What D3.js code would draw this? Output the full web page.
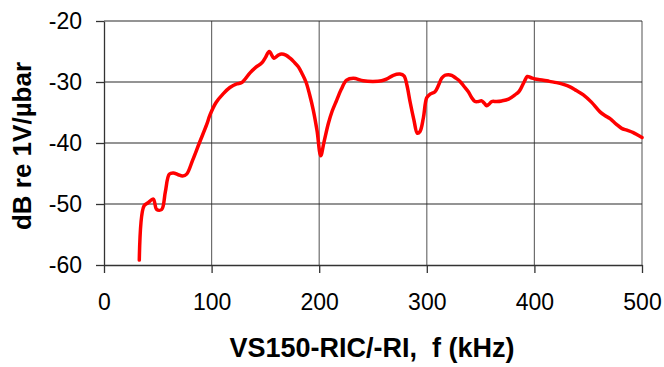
<!DOCTYPE html>
<html>
<head>
<meta charset="utf-8">
<script src="https://cdn.jsdelivr.net/npm/d3@7"></script>
<style>
  html, body { margin: 0; padding: 0; background: #fff; }
  svg { display: block; }
  text { font-family: "Liberation Sans", Arial, sans-serif; fill: #000; }
</style>
</head>
<body>
<svg id="chart" width="664" height="367"></svg>
<script>
// Frequency response of the VS150-RIC/-RI sensor
const freqKHz = [32.8, 37.2, 41, 45.8, 49, 53.6, 57, 60.7, 64.4, 69, 73, 76.8, 82.4, 88.6, 95.4, 98.5,
  104, 110.9, 117, 123.3, 128, 135.7, 141, 146.5, 150, 153.6, 158, 162, 165.1, 169, 172.9, 176.5, 180.6,
  184, 187.7, 191, 194.5, 198, 201.4, 204.5, 208.5, 212, 216.2, 220.5, 225.5, 231.7, 241, 250, 258,
  263, 268.9, 275, 278.8, 281.5, 284.4, 288, 291.2, 293.7, 296.8, 299.9, 303, 307.6, 311, 313.8, 316.9,
  320, 323.1, 326.5, 330.9, 334.5, 338.6, 341.5, 344.8, 348, 351, 353.5, 355.7, 358, 360.3, 365, 369.6,
  376, 382, 385.5, 388.2, 391, 393.4, 397, 400.6, 408.3, 414, 420.7, 427, 433.1, 439, 445.5, 453,
  461, 465.5, 470.3, 476, 481.1, 486, 491.9, 496, 500];
const levelDB = [-59.2, -50.3, -49.8, -49.2, -50.9, -50.9, -48.0, -45.1, -44.9, -45.2, -45.4, -45.1, -42.8, -40.0, -37.0, -35.4,
  -33.4, -31.9, -30.9, -30.3, -30.1, -28.5, -27.6, -26.9, -26.0, -25.0, -26.1, -25.6, -25.4, -25.6, -26.1, -26.7, -27.5,
  -28.6, -30.0, -32.0, -34.6, -38.0, -42.1, -39.8, -36.8, -34.8, -33.0, -31.2, -29.7, -29.4, -29.8, -29.9, -29.8,
  -29.5, -28.9, -28.7, -29.0, -30.5, -33.2, -36.2, -38.4, -38.1, -35.9, -32.6, -32.0, -31.6, -30.5, -29.4, -28.9,
  -28.8, -28.9, -29.3, -29.9, -30.7, -31.6, -32.5, -33.2, -33.2, -33.1, -33.5, -33.9, -33.6, -33.2, -33.2, -33.1,
  -32.8, -32.1, -31.6, -30.8, -29.8, -29.1, -29.3, -29.5, -29.7, -29.9, -30.1, -30.4, -30.8, -31.4, -32.1, -33.3,
  -34.9, -35.5, -36.0, -36.9, -37.6, -37.9, -38.3, -38.7, -39.1];

const xTicks = [0, 100, 200, 300, 400, 500];
const yTicks = [-60, -50, -40, -30, -20];
const xTitle = "VS150-RIC/-RI,  f (kHz)";
const yTitle = "dB re 1V/µbar";

const svg = d3.select("#chart");
const plot = { left: 104, right: 642, top: 21, bottom: 265 };

const x = d3.scaleLinear().domain([0, 500]).range([plot.left, plot.right]);
const y = d3.scaleLinear().domain([-60, -20]).range([plot.bottom, plot.top]);

// Gridlines
svg.append("g")
  .selectAll("line")
  .data(xTicks.slice(1))
  .join("line")
  .attr("x1", d => x(d)).attr("x2", d => x(d))
  .attr("y1", plot.top).attr("y2", plot.bottom)
  .attr("stroke", "#6e6e6e").attr("stroke-width", 1.2);

svg.append("g")
  .selectAll("line")
  .data(yTicks.slice(1))
  .join("line")
  .attr("x1", plot.left).attr("x2", plot.right)
  .attr("y1", d => y(d)).attr("y2", d => y(d))
  .attr("stroke", "#2a2a2a").attr("stroke-width", 1.2);

// Axes
const xAxis = svg.append("g")
  .attr("transform", `translate(0,${plot.bottom})`)
  .call(d3.axisBottom(x).tickValues(xTicks).tickSizeInner(8).tickSizeOuter(0).tickPadding(21));
const yAxis = svg.append("g")
  .attr("transform", `translate(${plot.left},0)`)
  .call(d3.axisLeft(y).tickValues(yTicks).tickSizeInner(8).tickSizeOuter(0).tickPadding(14)
    .tickFormat(d3.format("d")));

[xAxis, yAxis].forEach(g => {
  g.select(".domain").attr("stroke", "#333").attr("stroke-width", 1.3);
  g.selectAll(".tick line").attr("stroke", "#333").attr("stroke-width", 1.3);
  g.selectAll(".tick text")
    .attr("font-size", 23)
    .attr("font-family", "Liberation Sans, Arial, sans-serif")
    .attr("fill", "#000");
});
xAxis.selectAll(".tick text").attr("dy", "0.71em");
yAxis.selectAll(".tick text").text(d => d < 0 ? "-" + Math.abs(d) : d);

// Response curve
svg.append("path")
  .datum(freqKHz.map((f, i) => [f, levelDB[i]]))
  .attr("fill", "none")
  .attr("stroke", "#ff0000")
  .attr("stroke-width", 3.5)
  .attr("stroke-linejoin", "round")
  .attr("stroke-linecap", "round")
  .attr("d", d3.line().x(d => x(d[0])).y(d => y(d[1])).curve(d3.curveCatmullRom.alpha(0.5)));

// Axis titles
svg.append("text")
  .attr("x", (plot.left + plot.right) / 2 - 1)
  .attr("y", 357)
  .attr("text-anchor", "middle")
  .attr("font-size", 27)
  .attr("font-weight", "bold")
  .style("white-space", "pre")
  .text(xTitle);

svg.append("text")
  .attr("transform", "translate(31,146) rotate(-90)")
  .attr("text-anchor", "middle")
  .attr("font-size", 26)
  .attr("font-weight", "bold")
  .text(yTitle);
</script>
</body>
</html>
